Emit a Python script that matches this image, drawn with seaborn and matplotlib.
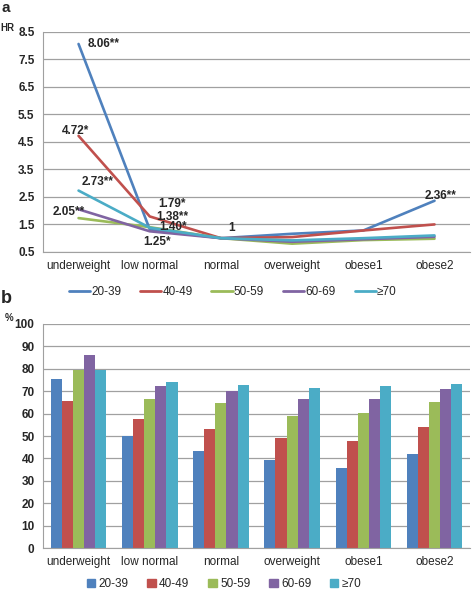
import matplotlib
matplotlib.use('Agg')
import matplotlib.pyplot as plt
import seaborn as sns
import pandas as pd
import numpy as np
from matplotlib.lines import Line2D
from matplotlib.patches import Patch

# categories and age groups
bmi = ['underweight', 'low normal', 'normal', 'overweight', 'obese1', 'obese2']
ages = ['20-39', '40-49', '50-59', '60-69', '≥70']
colors = ['#4F81BD', '#C0504D', '#9BBB59', '#8064A2', '#4BACC6']

# panel a: hazard ratios
hr_20_39 = [8.06, 1.32, 1.0, 1.16, 1.28, 2.36]
hr_40_49 = [4.72, 1.79, 1.0, 1.04, 1.28, 1.50]
hr_50_59 = [1.73, 1.40, 1.0, 0.80, 0.93, 0.98]
hr_60_69 = [2.05, 1.25, 1.0, 0.87, 0.96, 1.05]
hr_70 = [2.73, 1.38, 1.0, 0.92, 1.00, 1.10]

# panel b: percentages
pct_20_39 = [75.4, 50.0, 43.4, 39.1, 35.7, 41.8]
pct_40_49 = [65.7, 57.6, 53.1, 49.1, 47.8, 54.1]
pct_50_59 = [79.6, 66.4, 64.9, 59.0, 60.1, 65.0]
pct_60_69 = [86.3, 72.1, 69.9, 66.7, 66.7, 70.9]
pct_70 = [79.3, 74.0, 72.7, 71.6, 72.5, 73.4]

hr_df = pd.DataFrame({'bmi': bmi * 5,
                      'age': np.repeat(ages, 6),
                      'hr': hr_20_39 + hr_40_49 + hr_50_59 + hr_60_69 + hr_70})
pct_df = pd.DataFrame({'bmi': bmi * 5,
                       'age': np.repeat(ages, 6),
                       'pct': pct_20_39 + pct_40_49 + pct_50_59 + pct_60_69 + pct_70})

sns.set_style('white')
plt.rcParams['font.family'] = ['Liberation Sans', 'DejaVu Sans']
plt.rcParams['font.size'] = 8.5

fig = plt.figure(figsize=(4.72, 5.9), dpi=100)
ax1 = fig.add_axes([0.091, 0.573, 0.905, 0.373])
ax2 = fig.add_axes([0.091, 0.071, 0.905, 0.380])

# ---- panel a
sns.lineplot(data=hr_df, x='bmi', y='hr', hue='age', palette=colors, sort=False,
             linewidth=1.9, ax=ax1, legend=False)
ax1.set_ylim(0.5, 8.5)
ax1.set_yticks(np.arange(0.5, 8.6, 1.0))
ax1.set_xlim(-0.5, 5.5)

# annotations: label, category index, value, offset in points
notes = [('8.06**', 0, 8.06, 6.5, 0), ('4.72*', 0, 4.72, -12, 3.5),
         ('2.73**', 0, 2.73, 2, 6.5), ('2.05**', 0, 2.05, -19, -2),
         ('1.79*', 1, 1.79, 6, 9), ('1.38**', 1, 1.38, 4.5, 8),
         ('1.40*', 1, 1.40, 6.5, 0), ('1.25*', 1, 1.25, -5, -8),
         ('1', 2, 1.0, 5, 7), ('2.36**', 5, 2.36, -7, 3.5)]
for txt, i, v, dx, dy in notes:
    ax1.annotate(txt, (i, v), xytext=(dx, dy), textcoords='offset points',
                 fontweight='bold', fontsize=8.5, ha='left', va='center')

# ---- panel b
sns.barplot(data=pct_df, x='bmi', y='pct', hue='age', palette=colors,
            width=0.78, saturation=1, ax=ax2, legend=False, linewidth=0)
ax2.set_ylim(0, 100)
ax2.set_yticks(range(0, 101, 10))
ax2.set_xlim(-0.5, 5.5)

for ax in (ax1, ax2):
    ax.set_xlabel('')
    ax.set_ylabel('')
    ax.grid(axis='y', color='#A0A0A0', linewidth=0.9)
    ax.set_axisbelow(True)
    for s in ['top', 'right']:
        ax.spines[s].set_visible(False)
    ax.spines['left'].set_color('#A0A0A0')
    ax.spines['bottom'].set_color('#A0A0A0')
    ax.set_xticks(range(6))
    ax.set_xticklabels(bmi)
    ax.set_xticks(np.arange(-0.5, 5.6, 1), minor=True)
    ax.tick_params(axis='x', which='major', length=0, pad=6, labelsize=8.5)
    ax.tick_params(axis='x', which='minor', length=4, color='#A0A0A0', direction='out')
    ax.tick_params(axis='y', length=4, color='#A0A0A0', direction='out', labelsize=8.5, pad=2)
    for lab in ax.get_yticklabels():
        lab.set_fontweight('bold')

# legends
line_h = [Line2D([], [], color=c, lw=2) for c in colors]
fig.legend(line_h, ages, loc='center', bbox_to_anchor=(0.493, 0.505), ncol=5,
           frameon=False, handlelength=1.8, handletextpad=0.1, columnspacing=1.6,
           fontsize=8.5)
bar_h = [Patch(color=c) for c in colors]
fig.legend(bar_h, ages, loc='center', bbox_to_anchor=(0.475, 0.010), ncol=5,
           frameon=False, handlelength=0.7, handleheight=0.7, handletextpad=0.3,
           columnspacing=1.6, fontsize=8.5)

# panel letters and axis titles
fig.text(0.003, 0.999, 'a', fontsize=11, fontweight='bold', va='top')
fig.text(0.000, 0.953, 'HR', fontsize=7, fontweight='bold', va='center')
fig.text(0.002, 0.480, 'b', fontsize=13, fontweight='bold', va='bottom')
fig.text(0.011, 0.461, '%', fontsize=7, fontweight='bold', va='center')

fig.savefig('out.png', dpi=100)
